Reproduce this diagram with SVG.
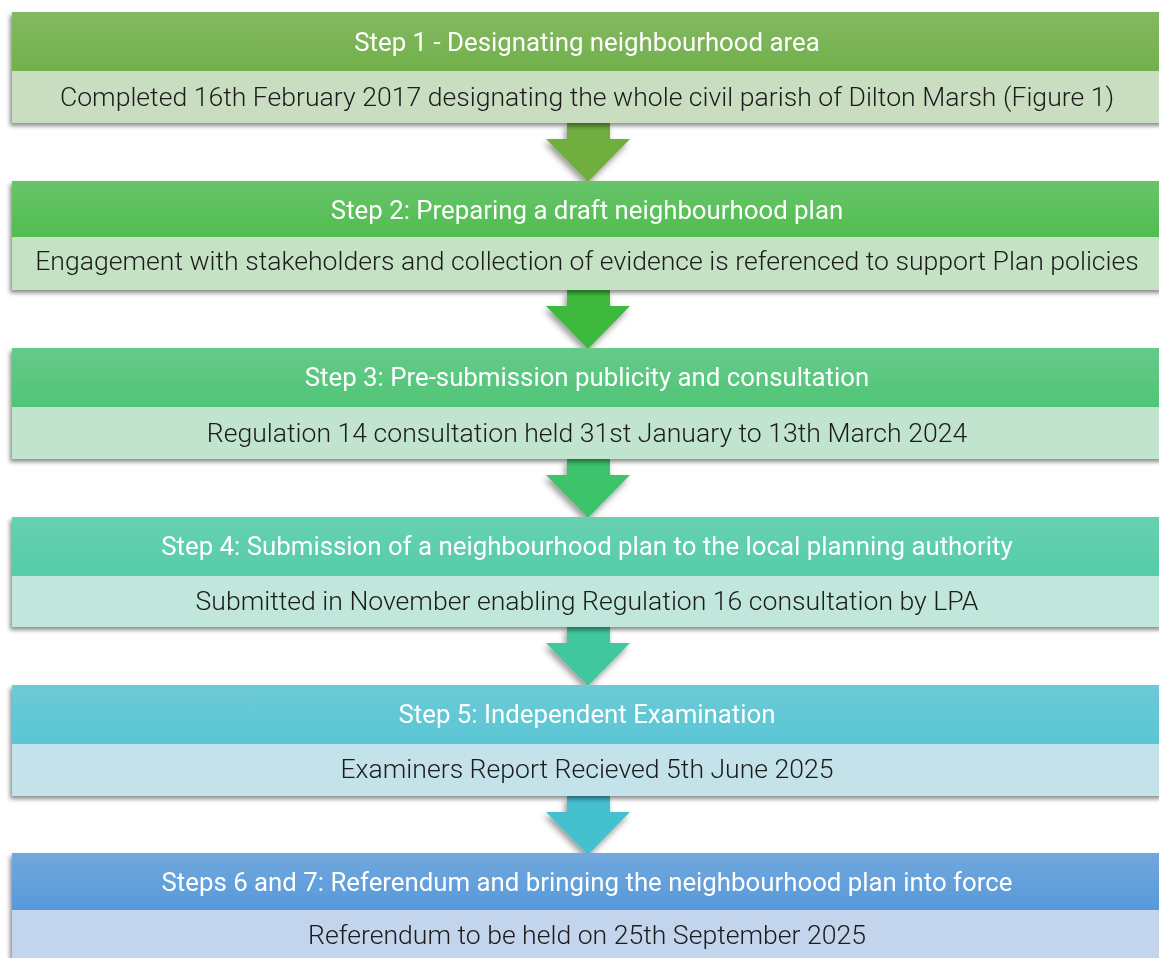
<svg xmlns="http://www.w3.org/2000/svg" width="1159" height="958" viewBox="0 0 1159 958">
<defs>
<filter id="sh" x="-5%" y="-20%" width="110%" height="150%">
<feDropShadow dx="-2" dy="3" stdDeviation="2" flood-color="#000" flood-opacity="0.45"/>
</filter>
<filter id="ash" x="-30%" y="-30%" width="160%" height="170%">
<feDropShadow dx="-2" dy="4" stdDeviation="3" flood-color="#000" flood-opacity="0.4"/>
</filter>
<linearGradient id="h1" x1="0" y1="0" x2="0" y2="1"><stop offset="0" stop-color="#84b963"/><stop offset="1" stop-color="#72b04a"/></linearGradient>
<linearGradient id="h2" x1="0" y1="0" x2="0" y2="1"><stop offset="0" stop-color="#68c46a"/><stop offset="1" stop-color="#50bd50"/></linearGradient>
<linearGradient id="h3" x1="0" y1="0" x2="0" y2="1"><stop offset="0" stop-color="#66ca89"/><stop offset="1" stop-color="#50c577"/></linearGradient>
<linearGradient id="h4" x1="0" y1="0" x2="0" y2="1"><stop offset="0" stop-color="#68d1b1"/><stop offset="1" stop-color="#55cca8"/></linearGradient>
<linearGradient id="h5" x1="0" y1="0" x2="0" y2="1"><stop offset="0" stop-color="#6ccad5"/><stop offset="1" stop-color="#5ac6d5"/></linearGradient>
<linearGradient id="h6" x1="0" y1="0" x2="0" y2="1"><stop offset="0" stop-color="#72a8dd"/><stop offset="1" stop-color="#5699da"/></linearGradient>
<path id="arr" d="M567,0 H610 V16 H630 L588,59 L546,16 H567 Z"/>
</defs>
<style>
.ht{font-family:Roboto,"Liberation Sans",sans-serif;font-size:25.8px;fill:#ffffff;text-anchor:middle;font-weight:400}
.bt{font-family:Roboto,"Liberation Sans",sans-serif;font-size:26.6px;fill:#1a1a1a;text-anchor:middle;font-weight:300}
</style>
<rect width="1159" height="958" fill="#ffffff"/>
<g id="connectors">
<use href="#arr" transform="translate(0,123)" fill="#6fae3f" filter="url(#ash)"/>
<use href="#arr" transform="translate(0,290)" fill="#3cb93c" filter="url(#ash)"/>
<use href="#arr" transform="translate(0,459)" fill="#3ec36c" filter="url(#ash)"/>
<use href="#arr" transform="translate(0,627)" fill="#40c79d" filter="url(#ash)"/>
<use href="#arr" transform="translate(0,796)" fill="#44c0cf" filter="url(#ash)"/>
</g>
<g id="step1" filter="url(#sh)">
<rect x="12" y="12" width="1152" height="59" fill="url(#h1)"/>
<rect x="12" y="71" width="1152" height="52" fill="#c9ddc1"/>
<text class="ht" x="587" y="51">Step 1 - Designating neighbourhood area</text>
<text class="bt" x="587" y="106">Completed 16th February 2017 designating the whole civil parish of Dilton Marsh (Figure 1)</text>
</g>
<g id="step2" filter="url(#sh)">
<rect x="12" y="181" width="1152" height="56" fill="url(#h2)"/>
<rect x="12" y="237" width="1152" height="53" fill="#c5e2c4"/>
<text class="ht" x="587" y="219">Step 2: Preparing a draft neighbourhood plan</text>
<text class="bt" x="587" y="270">Engagement with stakeholders and collection of evidence is referenced to support Plan policies</text>
</g>
<g id="step3" filter="url(#sh)">
<rect x="12" y="348" width="1152" height="59" fill="url(#h3)"/>
<rect x="12" y="407" width="1152" height="52" fill="#c1e4cf"/>
<text class="ht" x="587" y="386">Step 3: Pre-submission publicity and consultation</text>
<text class="bt" x="587" y="442">Regulation 14 consultation held 31st January to 13th March 2024</text>
</g>
<g id="step4" filter="url(#sh)">
<rect x="12" y="517" width="1152" height="59" fill="url(#h4)"/>
<rect x="12" y="576" width="1152" height="51" fill="#c1e6dc"/>
<text class="ht" x="587" y="555">Step 4: Submission of a neighbourhood plan to the local planning authority</text>
<text class="bt" x="587" y="610">Submitted in November enabling Regulation 16 consultation by LPA</text>
</g>
<g id="step5" filter="url(#sh)">
<rect x="12" y="685" width="1152" height="59" fill="url(#h5)"/>
<rect x="12" y="744" width="1152" height="52" fill="#c3e2e9"/>
<text class="ht" x="587" y="723">Step 5: Independent Examination</text>
<text class="bt" x="587" y="778">Examiners Report Recieved 5th June 2025</text>
</g>
<g id="step6" filter="url(#sh)">
<rect x="12" y="853" width="1152" height="57" fill="url(#h6)"/>
<rect x="12" y="910" width="1152" height="60" fill="#c3d5ec"/>
<text class="ht" x="587" y="891">Steps 6 and 7: Referendum and bringing the neighbourhood plan into force</text>
<text class="bt" x="587" y="944">Referendum to be held on 25th September 2025</text>
</g>
</svg>
